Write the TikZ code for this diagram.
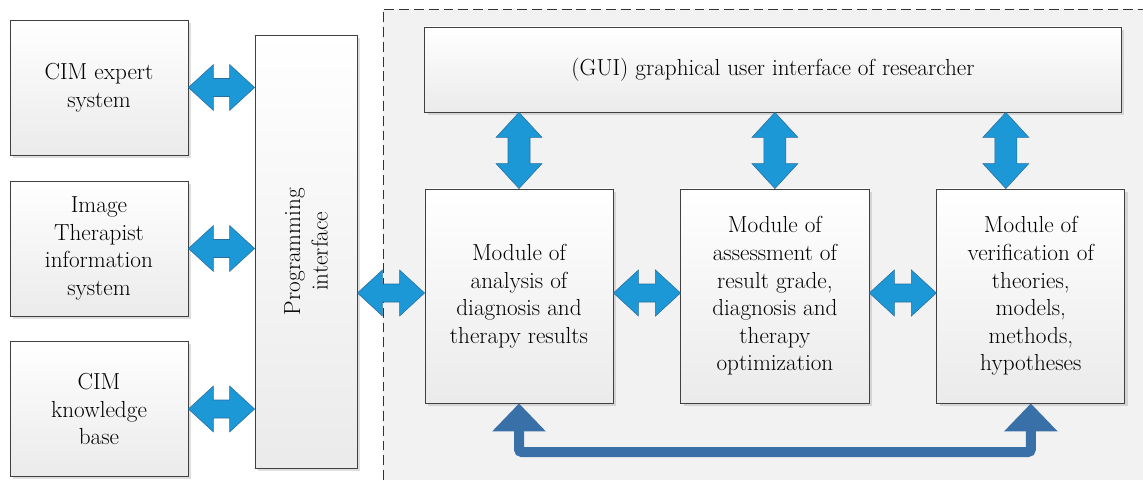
\documentclass[tikz,border=0pt]{standalone}
\usepackage{tikz}
\usetikzlibrary{arrows.meta, calc, shadows, positioning}

\definecolor{cyanarrow}{RGB}{28,152,214}
\definecolor{cyanedge}{RGB}{40,110,160}
\definecolor{steelarrow}{RGB}{58,112,168}
\definecolor{regionfill}{RGB}{242,242,242}

\tikzset{
  block/.style={draw=black!75, line width=0.6pt, top color=white, bottom color=black!8,
    drop shadow={opacity=0.25, shadow xshift=2pt, shadow yshift=-2pt},
    align=center, inner sep=2pt, font=\fontsize{16.5}{19.6}\selectfont},
  dblarrow/.style={fill=cyanarrow, draw=cyanedge, line width=0.4pt, line join=miter},
}

% horizontal double arrow between two points of equal height
\newcommand{\hdarrow}[2]{%
  \filldraw[dblarrow] (#1) -- ($(#1)+(0.625cm,0.575cm)$) -- ($(#1)+(0.625cm,0.225cm)$)
    -- ($(#2)+(-0.625cm,0.225cm)$) -- ($(#2)+(-0.625cm,0.575cm)$) -- (#2)
    -- ($(#2)+(-0.625cm,-0.575cm)$) -- ($(#2)+(-0.625cm,-0.225cm)$)
    -- ($(#1)+(0.625cm,-0.225cm)$) -- ($(#1)+(0.625cm,-0.575cm)$) -- cycle;}
% vertical double arrow, #1 above #2
\newcommand{\vdarrow}[2]{%
  \filldraw[dblarrow] (#1) -- ($(#1)+(0.575cm,-0.625cm)$) -- ($(#1)+(0.275cm,-0.625cm)$)
    -- ($(#2)+(0.275cm,0.625cm)$) -- ($(#2)+(0.575cm,0.625cm)$) -- (#2)
    -- ($(#2)+(-0.575cm,0.625cm)$) -- ($(#2)+(-0.275cm,0.625cm)$)
    -- ($(#1)+(-0.275cm,-0.625cm)$) -- ($(#1)+(-0.575cm,-0.625cm)$) -- cycle;}

\begin{document}
\begin{tikzpicture}[x=0.025cm, y=-0.025cm]
  \useasboundingbox (0,0) rectangle (1143,480);

  % researcher region
  \fill[regionfill] (383,9) rectangle (1143,480);
  \draw[black!80, line width=0.6pt, dash pattern=on 7pt off 3.5pt] (383,480) -- (383,9) -- (1143,9);

  % outside systems
  \node[block, minimum width=4.45cm, minimum height=3.375cm] (expert) at (99,87.5) {CIM expert\\system};
  \node[block, minimum width=4.45cm, minimum height=3.375cm] (therapist) at (99,248.5) {Image\\Therapist\\information\\system};
  \node[block, minimum width=4.45cm, minimum height=3.375cm] (knowledge) at (99,409) {CIM\\knowledge\\base};
  \node[block, minimum width=2.55cm, minimum height=10.825cm] (prog) at (306,251.5) {};
  \node[rotate=90, align=center, font=\fontsize{16.5}{19.6}\selectfont] (progtext) at (prog.center) {Programming\\interface};

  % researcher side
  \node[block, minimum width=17.4cm, minimum height=2.125cm] (gui) at (773,69.5) {(GUI) graphical user interface of researcher};
  \node[block, minimum width=4.7cm, minimum height=5.35cm] (analysis) at (519,296) {Module of\\analysis of\\diagnosis and\\therapy results};
  \node[block, minimum width=4.7cm, minimum height=5.35cm, right=1.675cm of analysis] (assess) {Module of\\assessment of\\result grade,\\diagnosis and\\therapy\\optimization};
  \node[block, minimum width=4.7cm, minimum height=5.35cm, right=1.675cm of assess] (verify) {Module of\\verification of\\theories,\\models,\\methods,\\hypotheses};

  % double arrows
  \hdarrow{expert.east}{prog.west |- expert.east}
  \hdarrow{therapist.east}{prog.west |- therapist.east}
  \hdarrow{knowledge.east}{prog.west |- knowledge.east}
  \hdarrow{prog.east |- 0,293}{analysis.west |- 0,293}
  \hdarrow{analysis.east |- 0,293}{assess.west |- 0,293}
  \hdarrow{assess.east |- 0,293}{verify.west |- 0,293}

  \vdarrow{gui.south -| analysis.north}{analysis.north}
  \vdarrow{gui.south -| assess.north}{assess.north}
  \coordinate (vtop) at ($(gui.south -| verify.north)+(-25,0)$);
  \coordinate (vbot) at ($(verify.north)+(-25,0)$);
  \vdarrow{vtop}{vbot}

  % feedback between analysis and verification
  \draw[steelarrow, line width=0.25cm, rounded corners=2pt,
    {Triangle[length=0.7cm, width=1.3cm]}-{Triangle[length=0.7cm, width=1.3cm]}]
    (analysis.south) -- (analysis.south |- 0,452) -- (verify.south |- 0,452) -- (verify.south);
\end{tikzpicture}
\end{document}
